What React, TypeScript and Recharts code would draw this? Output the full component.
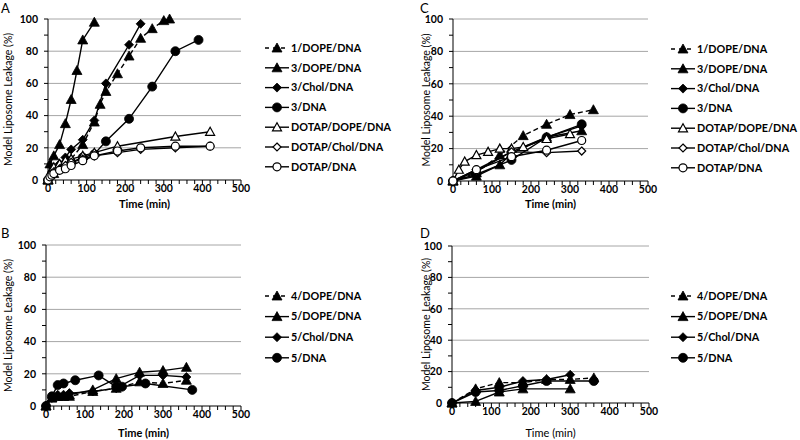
import React from "react";
import { LineChart, Line, XAxis, YAxis, ReferenceLine } from "recharts";

const FONT = "Lato, 'Open Sans', sans-serif";

// time (min), leakage (%)
const A_1_DOPE: [number, number][] = [[0, 0], [15, 4], [30, 7], [45, 10], [60, 13], [90, 22], [120, 36], [135, 47], [150, 55], [180, 66], [210, 77], [240, 88], [270, 94], [300, 99], [315, 100]];
const A_3_DOPE: [number, number][] = [[0, 0], [5, 10], [15, 15], [30, 22], [45, 35], [60, 50], [75, 68], [90, 87], [120, 98]];
const A_3_CHOL: [number, number][] = [[0, 0], [15, 6], [30, 10], [45, 14], [60, 19], [90, 25], [120, 37], [150, 60], [210, 84], [240, 97]];
const A_3_DNA: [number, number][] = [[0, 0], [10, 4], [20, 6], [30, 8], [45, 10], [60, 11], [90, 14], [120, 16], [150, 24], [210, 38], [270, 58], [330, 80], [390, 87]];
const A_DOTAP_DOPE: [number, number][] = [[0, 0], [5, 3], [10, 6], [15, 8], [30, 10], [45, 12], [60, 13], [90, 15], [120, 17], [180, 21], [330, 27], [420, 30]];
const A_DOTAP_CHOL: [number, number][] = [[0, 0], [5, 2], [10, 4], [15, 5], [30, 7], [45, 9], [60, 11], [90, 13], [120, 15], [180, 17], [240, 19], [330, 20], [420, 21]];
const A_DOTAP_DNA: [number, number][] = [[0, 0], [5, 2], [10, 3], [15, 4], [30, 6], [45, 7], [60, 9], [90, 12], [120, 15], [180, 18], [240, 20], [330, 21], [420, 21]];

const C_1_DOPE: [number, number][] = [[0, 0], [60, 5], [120, 16], [180, 28], [240, 35], [300, 41], [360, 44]];
const C_3_DOPE: [number, number][] = [[0, 0], [60, 3], [120, 10], [150, 17], [240, 27], [330, 31]];
const C_3_CHOL: [number, number][] = [[0, 0], [60, 7], [150, 18], [240, 27], [330, 34]];
const C_3_DNA: [number, number][] = [[0, 0], [60, 4], [150, 13], [240, 27], [330, 35]];
const C_DOTAP_DOPE: [number, number][] = [[0, 0], [15, 7], [30, 12], [60, 16], [90, 18], [120, 20], [150, 20], [180, 21], [240, 26], [300, 29]];
const C_DOTAP_CHOL: [number, number][] = [[0, 0], [60, 6], [150, 18], [240, 17.5], [330, 18.5]];
const C_DOTAP_DNA: [number, number][] = [[0, 0], [60, 7], [150, 15], [240, 19], [330, 25]];

const B_4_DOPE: [number, number][] = [[0, 0], [15, 5], [30, 6], [45, 6], [60, 6], [120, 9], [180, 11], [240, 15], [300, 14], [360, 16]];
const B_5_DOPE: [number, number][] = [[0, 0], [15, 5], [30, 6], [45, 6], [60, 7], [120, 10], [180, 17], [240, 21], [300, 22], [360, 24]];
const B_5_CHOL: [number, number][] = [[0, 0], [15, 5], [30, 7], [45, 7], [60, 8], [120, 9], [180, 11], [240, 19], [300, 19], [360, 18]];
const B_5_DNA: [number, number][] = [[0, 0], [15, 6], [30, 13], [45, 14], [75, 16], [135, 19], [180, 12], [195, 12], [255, 14], [375, 10]];

const D_4_DOPE: [number, number][] = [[0, 0], [60, 9], [120, 13], [180, 13], [240, 15], [300, 15], [360, 16]];
const D_5_DOPE: [number, number][] = [[0, 0], [60, 1], [120, 7], [180, 9], [300, 9]];
const D_5_CHOL: [number, number][] = [[0, 0], [60, 8], [120, 10], [180, 14], [240, 15], [300, 18]];
const D_5_DNA: [number, number][] = [[0, 0], [60, 7], [120, 8], [180, 11], [240, 14], [360, 14]];

const X_TICKS = [0, 20, 40, 60, 80, 100, 120, 140, 160, 180, 200, 220, 240, 260, 280, 300, 320, 340, 360, 380, 400, 420, 440, 460, 480, 500];
const Y_TICKS = [0, 10, 20, 30, 40, 50, 60, 70, 80, 90, 100];
const GRID_Y = [20, 40, 60, 80, 100];

type Shape = "tri" | "dia" | "cir";
type Series = { name: string; pts: [number, number][]; shape: Shape; filled: boolean; dashed?: boolean };

const seriesA: Series[] = [
  { name: "1/DOPE/DNA", pts: A_1_DOPE, shape: "tri", filled: true, dashed: true },
  { name: "3/DOPE/DNA", pts: A_3_DOPE, shape: "tri", filled: true },
  { name: "3/Chol/DNA", pts: A_3_CHOL, shape: "dia", filled: true },
  { name: "3/DNA", pts: A_3_DNA, shape: "cir", filled: true },
  { name: "DOTAP/DOPE/DNA", pts: A_DOTAP_DOPE, shape: "tri", filled: false },
  { name: "DOTAP/Chol/DNA", pts: A_DOTAP_CHOL, shape: "dia", filled: false },
  { name: "DOTAP/DNA", pts: A_DOTAP_DNA, shape: "cir", filled: false },
];
const seriesC: Series[] = [
  { name: "1/DOPE/DNA", pts: C_1_DOPE, shape: "tri", filled: true, dashed: true },
  { name: "3/DOPE/DNA", pts: C_3_DOPE, shape: "tri", filled: true },
  { name: "3/Chol/DNA", pts: C_3_CHOL, shape: "dia", filled: true },
  { name: "3/DNA", pts: C_3_DNA, shape: "cir", filled: true },
  { name: "DOTAP/DOPE/DNA", pts: C_DOTAP_DOPE, shape: "tri", filled: false },
  { name: "DOTAP/Chol/DNA", pts: C_DOTAP_CHOL, shape: "dia", filled: false },
  { name: "DOTAP/DNA", pts: C_DOTAP_DNA, shape: "cir", filled: false },
];
const seriesB: Series[] = [
  { name: "4/DOPE/DNA", pts: B_4_DOPE, shape: "tri", filled: true, dashed: true },
  { name: "5/DOPE/DNA", pts: B_5_DOPE, shape: "tri", filled: true },
  { name: "5/Chol/DNA", pts: B_5_CHOL, shape: "dia", filled: true },
  { name: "5/DNA", pts: B_5_DNA, shape: "cir", filled: true },
];
const seriesD: Series[] = [
  { name: "4/DOPE/DNA", pts: D_4_DOPE, shape: "tri", filled: true, dashed: true },
  { name: "5/DOPE/DNA", pts: D_5_DOPE, shape: "tri", filled: true },
  { name: "5/Chol/DNA", pts: D_5_CHOL, shape: "dia", filled: true },
  { name: "5/DNA", pts: D_5_DNA, shape: "cir", filled: true },
];

function Marker({ x, y, shape, filled }: { x: number; y: number; shape: Shape; filled: boolean }) {
  const fill = filled ? "#000" : "#fff";
  const sw = filled ? 0.8 : 1.2;
  if (shape === "tri") {
    const s = filled ? 5 : 4.5;
    return <polygon points={`${x - s},${y + s * 0.8} ${x + s},${y + s * 0.8} ${x},${y - s}`} fill={fill} stroke="#000" strokeWidth={sw} />;
  }
  if (shape === "dia") {
    const s = filled ? 4.5 : 4;
    return <polygon points={`${x},${y - s} ${x + s},${y} ${x},${y + s} ${x - s},${y}`} fill={fill} stroke="#000" strokeWidth={sw} />;
  }
  return <circle cx={x} cy={y} r={filled ? 4.5 : 4} fill={fill} stroke="#000" strokeWidth={sw} />;
}

const makeDot = (shape: Shape, filled: boolean) => (p: any) => {
  if (p.cx == null || p.cy == null) return <g key={p.index} />;
  return (
    <g key={p.index}>
      <Marker x={p.cx} y={p.cy} shape={shape} filled={filled} />
    </g>
  );
};

type PanelProps = {
  series: Series[];
  L: number; T: number; R: number; B: number; titleY: number;
  yw: number; yLabelX: number; boldTitle: boolean;
  legendX: number; legendY: number; legendStep: number;
  letter: string; letterX: number; letterY: number;
};

function Panel(props: PanelProps) {
  const { series, L, T, R, B, titleY, yw, yLabelX, boldTitle, legendX, legendY, legendStep, letter, letterX, letterY } = props;
  const left = L - yw;
  const top = T - 10;
  const width = R - left + 10;
  const xh = titleY + 5 - B;
  const height = B - T + 10 + xh + 6;
  const tickStyle = { fill: "#000", fontSize: 10.5, fontWeight: 700, fontFamily: FONT };
  return (
    <>
      <div style={{ position: "absolute", left: letterX, top: letterY, fontFamily: FONT, fontSize: 13, color: "#000", lineHeight: "15px" }}>{letter}</div>
      <div style={{ position: "absolute", left, top }}>
        <LineChart width={width} height={height} margin={{ top: 10, right: 10, left: 0, bottom: 6 }}>
          {GRID_Y.map((g) => (
            <ReferenceLine key={g} y={g} stroke="#a6a6a6" strokeWidth={1} />
          ))}
          <XAxis
            type="number"
            dataKey="t"
            domain={[0, 500]}
            ticks={X_TICKS}
            interval={0}
            height={xh}
            tickSize={4}
            tickMargin={1}
            stroke="#000"
            tick={tickStyle}
            tickFormatter={(v: number) => (v % 100 === 0 ? String(v) : "")}
            allowDuplicatedCategory={false}
            label={{ value: "Time (min)", position: "insideBottom", offset: 0, fill: "#000", fontSize: 11, fontWeight: boldTitle ? 700 : 400, fontFamily: FONT }}
          />
          <YAxis
            type="number"
            domain={[0, 100]}
            ticks={Y_TICKS}
            interval={0}
            width={yw}
            tickSize={4}
            tickMargin={6}
            stroke="#000"
            tick={tickStyle}
            tickFormatter={(v: number) => (v % 20 === 0 ? String(v) : "")}
            label={{ value: "Model Liposome Leakage (%)", angle: -90, position: "insideLeft", offset: yLabelX - left, fill: "#000", fontSize: 10.5, fontFamily: FONT, style: { textAnchor: "middle" } }}
          />
          {series.map((s) => (
            <Line
              key={s.name}
              data={s.pts.map(([t, v]) => ({ t, v }))}
              dataKey="v"
              type="linear"
              stroke="#000"
              strokeWidth={1.4}
              strokeDasharray={s.dashed ? "5 3" : undefined}
              dot={makeDot(s.shape, s.filled)}
              activeDot={false}
              isAnimationActive={false}
            />
          ))}
        </LineChart>
      </div>
      <svg style={{ position: "absolute", left: legendX, top: legendY - 10, overflow: "visible" }} width={120} height={legendStep * series.length + 10}>
        {series.map((s, i) => {
          const y = 10 + i * legendStep;
          return (
            <g key={s.name}>
              <line x1={0} x2={24} y1={y} y2={y} stroke="#000" strokeWidth={1.4} strokeDasharray={s.dashed ? "4 4" : undefined} />
              <Marker x={12} y={y} shape={s.shape} filled={s.filled} />
              <text x={26} y={y} dy="0.35em" fontFamily={FONT} fontSize={10.8} fontWeight={700} fill="#000">{s.name}</text>
            </g>
          );
        })}
      </svg>
    </>
  );
}

export default function App() {
  return (
    <div style={{ position: "fixed", left: 0, top: 0, width: 800, height: 440, background: "#fff" }}>
      <Panel series={seriesA} L={48} T={19} R={241} B={180} titleY={203} yw={48} yLabelX={8} boldTitle legendX={265} legendY={48} legendStep={19.8} letter="A" letterX={1} letterY={1} />
      <Panel series={seriesC} L={453} T={19} R={648} B={181} titleY={203} yw={48} yLabelX={426} boldTitle legendX={671} legendY={49} legendStep={19.8} letter="C" letterX={420} letterY={1} />
      <Panel series={seriesB} L={46} T={245} R={241} B={406} titleY={432} yw={48} yLabelX={8} boldTitle legendX={265} legendY={296} legendStep={20.6} letter="B" letterX={1} letterY={226} />
      <Panel series={seriesD} L={452} T={246} R={649} B={403} titleY={432} yw={48} yLabelX={426} boldTitle={false} legendX={671} legendY={296} legendStep={20.6} letter="D" letterX={420} letterY={226} />
    </div>
  );
}
